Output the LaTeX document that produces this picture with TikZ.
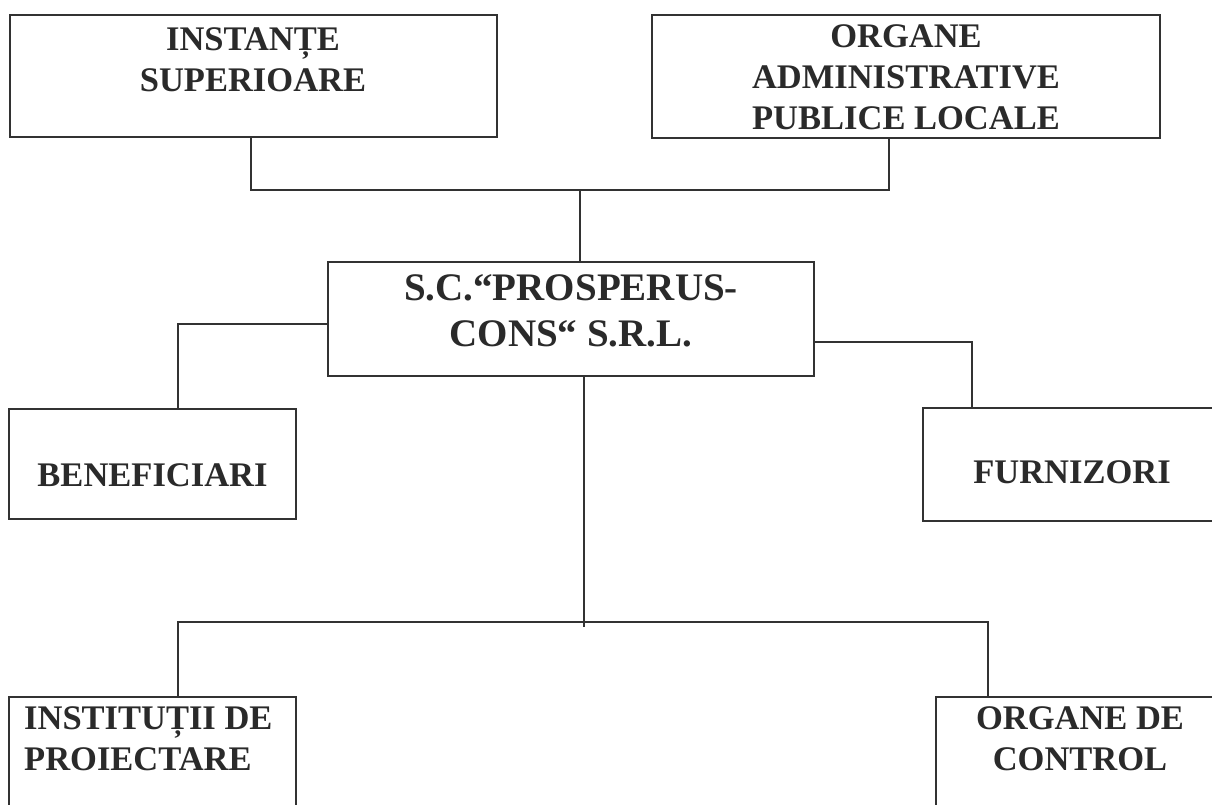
\documentclass[tikz,border=0pt]{standalone}
\usepackage{fontspec}
\setmainfont{Liberation Serif}
\usepackage{tikz}
\usetikzlibrary{calc}
\definecolor{inkgray}{RGB}{42,42,42}
\definecolor{linegray}{RGB}{50,50,50}
\tikzset{
  orgbox/.style={draw=linegray,line width=2pt,fill=white,inner sep=0pt},
  orgtext/.style={font=\fontsize{34.5}{41}\selectfont\bfseries,text=inkgray,align=center,inner sep=0pt},
  firmtext/.style={orgtext,font=\fontsize{39}{46}\selectfont\bfseries},
  link/.style={draw=linegray,line width=2pt}
}
\begin{document}
\begin{tikzpicture}[x=1pt,y=-1pt]
  \fill[white] (0,0) rectangle (1212,805);
  \useasboundingbox (0,0) rectangle (1212,805);
  \node[orgbox,minimum width=487pt,minimum height=122pt] (inst) at (253.5,76) {};
  \node[orgbox,minimum width=508pt,minimum height=123pt] (adm) at (906,76.5) {};
  \node[orgbox,minimum width=486pt,minimum height=114pt] (sc) at (571,319) {};
  \node[orgbox,minimum width=287pt,minimum height=110pt] (benef) at (152.5,464) {};
  \node[orgbox,minimum width=298pt,minimum height=113pt] (furn) at (1072,464.5) {};
  \node[orgbox,minimum width=287pt,minimum height=166pt] (proj) at (152.5,780) {};
  \node[orgbox,minimum width=288pt,minimum height=166pt] (ctrl) at (1080,780) {};
  \node[orgtext] (instT) at (253,60) {INSTANȚE\\SUPERIOARE};
  \node[orgtext] (admT) at (906,77) {ORGANE\\ADMINISTRATIVE\\PUBLICE LOCALE};
  \node[firmtext] (scT) at (571,311) {S.C.“PROSPERUS-\\CONS“ S.R.L.};
  \node[orgtext] (benefT) at (152.5,475) {BENEFICIARI};
  \node[orgtext] (furnT) at (1072,472) {FURNIZORI};
  \node[orgtext,align=left,anchor=west] (projT) at (24,739) {INSTITUȚII DE\\PROIECTARE};
  \node[orgtext] (ctrlT) at (1080,739) {ORGANE DE\\CONTROL};
  \coordinate (topbus) at (580,190);
  \coordinate (lowbus) at (584,622);
  \draw[link] ([xshift=-3pt]inst.south) |- (topbus) -| ([xshift=-17pt]adm.south);
  \draw[link] (sc.north -| topbus) -- (topbus);
  \draw[link] ([yshift=-5pt]sc.west) -| ([xshift=25pt]benef.north);
  \draw[link] ([yshift=-23pt]sc.east) -| ([xshift=-100pt]furn.north);
  \draw[link] (sc.south -| lowbus) -- ([yshift=-5pt]lowbus);
  \draw[link] ([xshift=25pt]proj.north) |- (lowbus) -| ([xshift=-92pt]ctrl.north);
\end{tikzpicture}
\end{document}
